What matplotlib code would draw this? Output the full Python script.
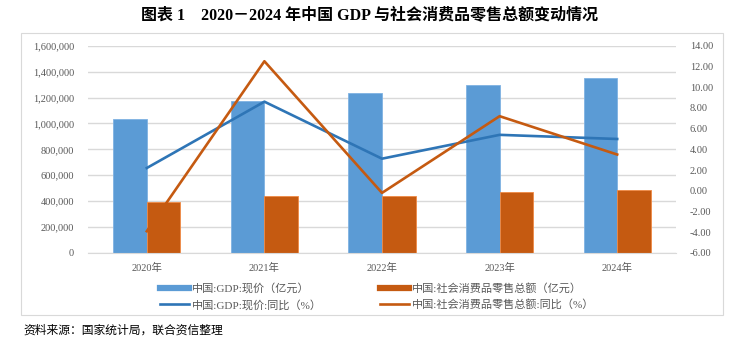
import matplotlib.pyplot as plt
import numpy as np
from matplotlib.lines import Line2D
from matplotlib.patches import Rectangle

years = ['2020年', '2021年', '2022年', '2023年', '2024年']
gdp = [1032000, 1173000, 1233000, 1294000, 1349000]
retail = [392000, 441000, 440000, 471000, 488000]
gdp_yoy = [2.2, 8.6, 3.1, 5.4, 5.0]
retail_yoy = [-3.9, 12.5, -0.2, 7.2, 3.5]

left_ticks = np.arange(0, 1600001, 200000)
right_ticks = np.arange(-6, 14.01, 2)

serif_cn = ['Liberation Serif', 'Noto Sans CJK SC']
grey = '#595959'
c_gdp_bar, c_ret_bar = '#5B9BD5', '#C55A11'
c_gdp_line, c_ret_line = '#2E75B6', '#C55A11'

fig = plt.figure(figsize=(7.39, 3.39), dpi=100)

# outer frame
fig.patches.append(Rectangle((21 / 739, 1 - 315 / 339), (723 - 21) / 739, (315 - 33) / 339,
                             transform=fig.transFigure, fill=False, edgecolor='#d9d9d9', lw=0.8))

ax = fig.add_axes([88 / 739, 1 - 253 / 339, (676 - 88) / 739, (253 - 45.7) / 339])
ax2 = ax.twinx()

x = np.arange(len(years))
w = 0.285
ax.bar(x - w / 2, gdp, w, color=c_gdp_bar, edgecolor='#7fb2e3', lw=0.6)
ax.bar(x + w / 2, retail, w, color=c_ret_bar, edgecolor='#f08a45', lw=0.6)
ax2.plot(x, gdp_yoy, color=c_gdp_line, lw=1.9)
ax2.plot(x, retail_yoy, color=c_ret_line, lw=1.9)

ax.set_xlim(-0.5, len(years) - 0.5)
ax.set_ylim(0, 1600000)
ax2.set_ylim(-6, 14)
ax.set_yticks(left_ticks)
ax.set_yticklabels([f'{v:,}' for v in left_ticks])
ax2.set_yticks(right_ticks)
ax2.set_yticklabels([f'{v:.2f}' for v in right_ticks])
ax.set_xticks(x)
ax.set_xticklabels(years)

ax.grid(axis='y', color='#d9d9d9', lw=1)
ax.set_axisbelow(True)
for a in (ax, ax2):
    for s in ['top', 'left', 'right']:
        a.spines[s].set_visible(False)
    a.spines['bottom'].set_color('#d9d9d9')
    a.tick_params(length=0, colors=grey, labelsize=7.5)
ax2.spines['bottom'].set_visible(False)
ax.tick_params(axis='y', pad=10)
ax2.tick_params(axis='y', pad=10)
ax.tick_params(axis='x', pad=7)
for t in ax.get_yticklabels() + ax2.get_yticklabels() + ax.get_xticklabels():
    t.set_family(serif_cn)

handles = [Line2D([], [], color=c_gdp_bar, lw=4.5),
           Line2D([], [], color=c_gdp_line, lw=1.9),
           Line2D([], [], color=c_ret_bar, lw=4.5),
           Line2D([], [], color=c_ret_line, lw=1.9)]
labels = ['中国:GDP:现价（亿元）', '中国:GDP:现价:同比（%）',
          '中国:社会消费品零售总额（亿元）', '中国:社会消费品零售总额:同比（%）']
leg = fig.legend(handles, labels, ncol=2, loc='upper left',
                 bbox_to_anchor=(150 / 739, 1 - 273 / 339),
                 frameon=False, prop={'family': serif_cn, 'size': 8},
                 handlelength=2.6, handletextpad=0.3, columnspacing=5.2, labelspacing=0.5)
for t in leg.get_texts():
    t.set_color(grey)

fig.text(0.5, 1 - 16 / 339, '图表 1    2020－2024 年中国 GDP 与社会消费品零售总额变动情况',
         ha='center', va='center', fontsize=11.5, fontweight='bold', family=serif_cn)
fig.text(23 / 739, 1 - 330 / 339, '资料来源：国家统计局，联合资信整理',
         ha='left', va='center', fontsize=8.5, family=['Noto Sans CJK SC', 'DejaVu Sans'])

fig.savefig('out.png', dpi=100)
